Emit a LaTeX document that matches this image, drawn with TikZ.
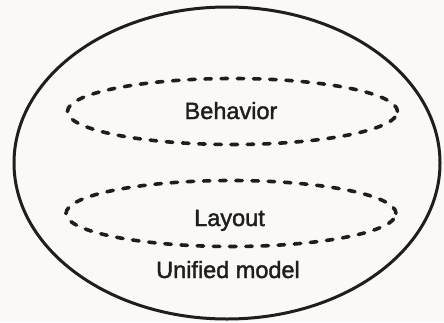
\documentclass[tikz,border=0pt]{standalone}
\usepackage{fontspec}
\setmainfont{Liberation Sans}
\usetikzlibrary{shapes.geometric}
\definecolor{paper}{HTML}{FAF9F6}
\definecolor{ink}{HTML}{1E1E1E}
\tikzset{
  outerring/.style={ellipse, draw=ink, line width=3pt, inner sep=0pt},
  subring/.style={ellipse, draw=ink, line width=3.6pt, inner sep=0pt,
    dash pattern=on 6.5pt off 9.7pt, line cap=round,
    minimum width=330pt, minimum height=66pt},
  lbl/.style={text=ink, inner sep=0pt,
    font=\addfontfeatures{FakeBold=1.6}\fontsize{23.5}{28}\selectfont}
}
\begin{document}
\begin{tikzpicture}[x=1pt, y=-1pt]
  % page background
  \fill[paper] (0,0) rectangle (444,322);
  \useasboundingbox (0,0) rectangle (444,322);

  % unified model boundary
  \node[outerring, minimum width=426pt, minimum height=312pt] (unified) at (227,163) {};

  % the two views inside it
  \node[subring] (behring) at (232.5,111.5) {};
  \node[subring] (layring) at (231,213.5) {};

  % labels
  \node[lbl, anchor=base] (beh) at (231,119) {Behavior};
  \node[lbl, anchor=base] (lay) at (229.5,226) {Layout};
  \node[lbl, anchor=base] (uni) at (228,278) {Unified model};
\end{tikzpicture}
\end{document}
